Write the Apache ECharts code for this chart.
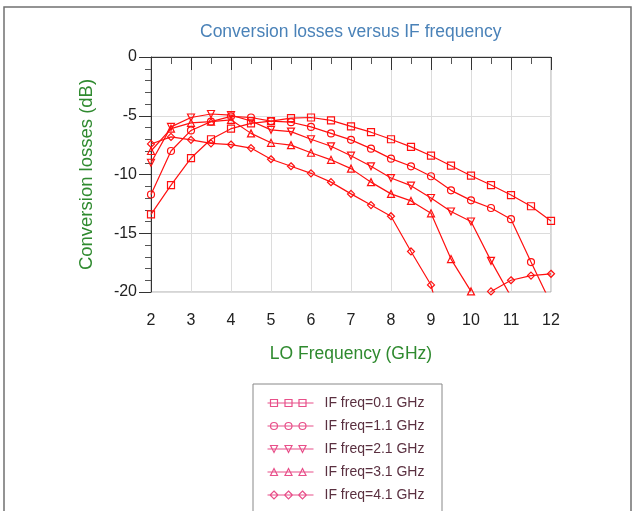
<!DOCTYPE html>
<html>
<head>
<meta charset="utf-8">
<script src="https://cdn.jsdelivr.net/npm/echarts@6/dist/echarts.min.js"></script>
<style>html,body{margin:0;padding:0;background:#fff}#c{width:634px;height:511px}</style>
</head>
<body>
<div id="c"></div>
<script>
const loFreq = [2,2.5,3,3.5,4,4.5,5,5.5,6,6.5,7,7.5,8,8.5,9,9.5,10,10.5,11,11.5,12];
const if01 = [-13.4,-10.9,-8.6,-7.0,-6.1,-5.65,-5.45,-5.2,-5.15,-5.4,-5.9,-6.4,-7.0,-7.65,-8.4,-9.25,-10.1,-10.9,-11.75,-12.7,-13.95];
const if11 = [-11.7,-8.0,-6.25,-5.5,-5.05,-5.15,-5.45,-5.55,-5.95,-6.5,-7.05,-7.8,-8.65,-9.3,-10.15,-11.35,-12.2,-12.85,-13.8,-17.45,-21.0];
const if21 = [-9.0,-5.95,-5.15,-4.85,-4.95,-5.45,-6.2,-6.35,-7.0,-7.6,-8.4,-9.3,-10.3,-10.95,-12.0,-13.15,-14.0,-17.35,-20.4];
const if31 = [-8.0,-6.1,-5.6,-5.5,-5.35,-6.5,-7.3,-7.5,-8.15,-8.75,-9.5,-10.65,-11.65,-12.25,-13.3,-17.2,-19.95];
const if41 = [-7.4,-6.8,-7.05,-7.35,-7.45,-7.75,-8.7,-9.3,-9.9,-10.65,-11.65,-12.6,-13.55,-16.55,-19.4,-26.0,-30.0,-19.95,-19.0,-18.6,-18.45];
const seriesNames = ['IF freq=0.1 GHz','IF freq=1.1 GHz','IF freq=2.1 GHz','IF freq=3.1 GHz','IF freq=4.1 GHz'];
const xTicks = [2,3,4,5,6,7,8,9,10,11,12];
const yTicks = [0,-5,-10,-15,-20];

const allValues = [if01, if11, if21, if31, if41];
const symbols = ['rect','circle','triangle','triangle','diamond'];
const rotates = [0,0,180,0,0];
const sizes = [7,7,7,7,7];
const legendIcons = [
  'path://M0,5L46,5M3,1.5h7v7h-7zM17.5,1.5h7v7h-7zM31.5,1.5h7v7h-7z',
  'path://M0,5L46,5M10,5a3.5,3.5 0 1,1 -7,0a3.5,3.5 0 1,1 7,0M24.5,5a3.5,3.5 0 1,1 -7,0a3.5,3.5 0 1,1 7,0M38.5,5a3.5,3.5 0 1,1 -7,0a3.5,3.5 0 1,1 7,0',
  'path://M0,5L46,5M3,1.5h7l-3.5,7zM17.5,1.5h7l-3.5,7zM31.5,1.5h7l-3.5,7z',
  'path://M0,5L46,5M6.5,1.5l3.5,7h-7zM21,1.5l3.5,7h-7zM35,1.5l3.5,7h-7z',
  'path://M0,5L46,5M6.5,1l4,4l-4,4l-4,-4zM21,1l4,4l-4,4l-4,-4zM35,1l4,4l-4,4l-4,-4z'
];

const chart = echarts.init(document.getElementById('c'), null, {renderer:'canvas'});
const font = 'Liberation Sans, Arial, sans-serif';

const series = seriesNames.map((name, i) => ({
  name: name,
  type: 'line',
  data: allValues[i].map((v, k) => [loFreq[k], v]),
  symbol: symbols[i],
  symbolRotate: rotates[i],
  symbolSize: sizes[i],
  showAllSymbol: true,
  clip: true,
  lineStyle: {color: '#ff1010', width: 1.2},
  itemStyle: {color: 'rgba(255,255,255,0)', borderColor: '#ff1010', borderWidth: 1.2},
  emphasis: {disabled: true},
  animation: false
}));

chart.setOption({
  animation: false,
  backgroundColor: '#fff',
  title: {
    text: 'Conversion losses versus IF frequency',
    left: 195, top: 18,
    textStyle: {color: '#4a82b8', fontSize: 17.5, fontWeight: 'normal', fontFamily: font}
  },
  grid: {left: 151, right: 83, top: 57, bottom: 219, show: true, borderColor: '#aaaaaa', borderWidth: 1, containLabel: false},
  xAxis: {
    type: 'value', min: 2, max: 12, interval: 1,
    name: 'LO Frequency (GHz)', nameLocation: 'middle', nameGap: 53,
    nameTextStyle: {color: '#2f8a2f', fontSize: 17.5, fontFamily: font},
    axisLine: {show: true, lineStyle: {color: '#333', width: 1}},
    axisTick: {show: true, length: 13, lineStyle: {color: '#333'}},
    minorTick: {show: true, splitNumber: 2, length: 7, lineStyle: {color: '#555'}},
    axisLabel: {color: '#222', fontSize: 16, margin: 21, fontFamily: font,
      formatter: v => xTicks.includes(v) ? String(v) : ''},
    splitLine: {show: true, lineStyle: {color: '#dcdcdc', width: 1}}
  },
  yAxis: {
    type: 'value', min: -20, max: 0, interval: 5,
    name: 'Conversion losses (dB)', nameLocation: 'middle', nameGap: 55,
    nameTextStyle: {color: '#2f8a2f', fontSize: 18.5, fontFamily: font},
    axisLine: {show: true, lineStyle: {color: '#333', width: 1}},
    axisTick: {show: true, length: 12, lineStyle: {color: '#333'}},
    minorTick: {show: true, splitNumber: 5, length: 6, lineStyle: {color: '#555'}},
    axisLabel: {color: '#222', fontSize: 16, margin: 14, fontFamily: font,
      formatter: v => yTicks.includes(v) ? String(v) : ''},
    splitLine: {show: true, lineStyle: {color: '#dcdcdc', width: 1}}
  },
  legend: {
    orient: 'vertical', left: 265, top: 396,
    borderWidth: 0, padding: 0,
    itemWidth: 46, itemHeight: 10, itemGap: 9,
    symbolKeepAspect: true,
    selectedMode: false,
    textStyle: {color: '#5a3040', fontSize: 14, fontFamily: font, padding: [0,0,0,6]},
    data: seriesNames.map((n, i) => ({
      name: n, icon: legendIcons[i],
      itemStyle: {color: 'none', borderColor: '#e8508a', borderWidth: 1.2}
    }))
  },
  graphic: [{
    type: 'rect', silent: true, z: -10,
    shape: {x: 4, y: 7, width: 627, height: 520},
    style: {fill: 'none', stroke: '#707070', lineWidth: 1.5}
  }, {
    type: 'rect', silent: true, z: -5,
    shape: {x: 253, y: 384, width: 189, height: 140},
    style: {fill: '#fff', stroke: '#888', lineWidth: 1}
  }],
  series: series
});
</script>
</body>
</html>
